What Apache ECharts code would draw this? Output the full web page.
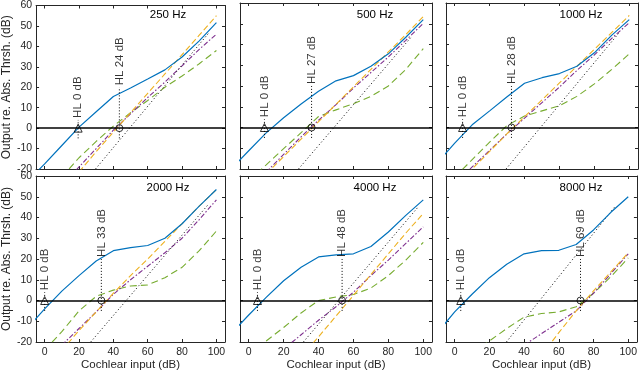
<!DOCTYPE html>
<html>
<head>
<meta charset="UTF-8">
<title></title>
<script src="https://cdn.jsdelivr.net/npm/echarts@6/dist/echarts.min.js"></script>
<style>
	html,body{margin:0;padding:0;background:#fff;}
	#main{width:640px;height:373px;}
</style>
</head>
<body>
<div id="main"></div>
<script>
// input levels (dB) where the curves were read
var inputs = [-10, 0, 10, 20, 30, 40, 50, 60, 70, 80, 90, 100];
var freqs = ['250 Hz', '500 Hz', '1000 Hz', '2000 Hz', '4000 Hz', '8000 Hz'];

// one row per panel, same order as freqs
var blue = [
	[-26, -17.5, -8.5, 0.5, 8, 15.5, 19.6, 24, 28.5, 34.8, 42.7, 51.6],
	[-20, -11.2, -2.6, 4.7, 11.3, 17.5, 22.5, 25, 29.5, 35.5, 43.5, 52],
	[-17, -7.5, 1.3, 8, 14.8, 21.3, 24, 26, 29.5, 36, 44.5, 52],
	[-13.3, -4, 4.5, 12, 19, 24, 25.5, 26.5, 30, 37, 45.5, 53.5],
	[-16, -7, 1.5, 9.5, 16, 21, 22, 22.5, 26, 33, 41, 48.5],
	[-15.5, -5.5, 3, 11, 17.5, 22.5, 24, 24.2, 27, 34, 42.5, 50]
];
var green = [
	[null, null, -24, -14.5, -6.5, 1, 7.5, 13.5, 20, 25.5, 31.5, 38],
	[null, -25.6, -18, -10.2, -2.5, 5.3, 8.5, 11.5, 15, 20, 28, 38],
	[null, -24, -15.5, -7, 1, 5.5, 8, 10.5, 15, 21, 28, 35.5],
	[null, -24, -15, -5, 2, 5, 7, 7.5, 11, 16, 24, 33.5],
	[null, -26, -19.5, -13, -6, 0, 1.7, 2.9, 6, 12, 19.5, 28],
	[null, null, -25, -19.5, -13.5, -8, -6.3, -5.5, -3, 3.5, 11.5, 20.5]
];
var orange = [
	[null, null, null, -21.5, -11.5, -2, 7.5, 17, 26.5, 36, 45.5, 55],
	[null, null, -22.4, -14, -5.6, 2.8, 11.2, 19.6, 28, 36.4, 44.8, 53.5],
	[null, -28.5, -20, -11.5, -3, 5.2, 13.3, 21.5, 29.5, 37.7, 45.8, 54],
	[null, null, -24, -14.5, -5.5, 3.5, 12, 20, 28.5, 37, 45.5, 53.5],
	[null, null, null, null, -27, -17.5, -7.5, 2.5, 12.5, 22.5, 32.5, 42],
	[null, null, null, null, null, null, -26.5, -15.5, -5, 4.6, 13.8, 23]
];
var purple = [
	[null, null, -28, -19, -10, -1, 7, 15, 22.5, 30.5, 38.5, 46],
	[null, null, -21.5, -13, -4.5, 3.5, 11, 19, 26.5, 34, 42, 50.2],
	[null, -27, -19, -11, -3, 4.5, 12, 19.5, 27.5, 35, 43, 50.5],
	[null, null, -21.5, -13.5, -5.5, 3, 10, 16.5, 23, 30, 39, 48.5],
	[null, null, null, -23.5, -16.5, -9.5, -3, 4, 12, 19.5, 27.5, 35.5],
	[null, null, null, null, null, -21.5, -16, -10.5, -5, 3.5, 13, 22.5]
];
// black dotted reference line: start and end point
var dotted = [
	[[29.6, -20], [95.5, 46.5]],
	[[28.5, -20], [93, 43.5]],
	[[29.4, -20], [94.5, 46]],
	[[26.8, -20], [95.5, 46.5]],
	[[31.3, -20], [97, 45]],
	[[29.8, -20], [92.4, 45.3]]
];
var hearingLoss = [24, 27, 28, 33, 48, 69];
var triX = [19.5, 9, 4.5, 0, 5, 3.5];
var circX = [43.5, 36, 32.5, 33, 53.5, 72.5];
var xTicks = [0, 20, 40, 60, 80, 100];

var fontFam = 'Liberation Sans, Arial, sans-serif';
var axisCol = '#262626';
var gridLeft = [33, 240, 446];
var gridTop = [3, 176];

function pts(vals) {
	var out = [];
	for (var i = 0; i < inputs.length; i++) {
		if (vals[i] != null) out.push([inputs[i], vals[i]]);
	}
	return out;
}

var grids = [], xAxes = [], yAxes = [], series = [], graphics = [];

for (var p = 0; p < 6; p++) {
	var row = Math.floor(p / 3), col = p % 3;
	grids.push({left: gridLeft[col], top: gridTop[row], width: 192, height: 166});

	var tickStyle = {inside: true, length: 3, lineStyle: {color: axisCol}};
	xAxes.push({
		gridIndex: p, type: 'value', min: -5, max: 105, position: 'bottom',
		axisLine: {show: true, onZero: false, lineStyle: {color: axisCol, width: 1}},
		axisTick: {show: true, inside: true, length: 3, customValues: xTicks, lineStyle: {color: axisCol}},
		axisLabel: {show: row == 1, customValues: xTicks, color: axisCol, fontSize: 10.5, fontFamily: fontFam, margin: 5},
		splitLine: {show: false},
		name: row == 1 ? 'Cochlear input (dB)' : '',
		nameLocation: 'middle', nameGap: 17,
		nameTextStyle: {color: axisCol, fontSize: 11.5, fontFamily: fontFam}
	});
	xAxes.push({
		gridIndex: p, type: 'value', min: -5, max: 105, position: 'top',
		axisLine: {show: true, onZero: false, lineStyle: {color: axisCol, width: 1}},
		axisTick: {show: true, inside: true, length: 3, customValues: xTicks, lineStyle: {color: axisCol}},
		axisLabel: {show: false},
		splitLine: {show: false}
	});
	yAxes.push({
		gridIndex: p, type: 'value', min: -20, max: 60, interval: 10, position: 'left',
		axisLine: {show: true, onZero: false, lineStyle: {color: axisCol, width: 1}},
		axisTick: tickStyle,
		axisLabel: {show: col == 0, color: axisCol, fontSize: 10.5, fontFamily: fontFam, margin: 4},
		splitLine: {show: false},
		name: col == 0 ? 'Output re. Abs. Thrsh. (dB)' : '',
		nameLocation: 'middle', nameGap: 21,
		nameTextStyle: {color: axisCol, fontSize: 12, fontFamily: fontFam}
	});
	yAxes.push({
		gridIndex: p, type: 'value', min: -20, max: 60, interval: 10, position: 'right',
		axisLine: {show: true, onZero: false, lineStyle: {color: axisCol, width: 1}},
		axisTick: tickStyle,
		axisLabel: {show: false},
		splitLine: {show: false}
	});

	var ax = {xAxisIndex: 2 * p, yAxisIndex: 2 * p};
	function add(s) {
		s.xAxisIndex = ax.xAxisIndex; s.yAxisIndex = ax.yAxisIndex;
		s.animation = false; s.silent = true;
		series.push(s);
	}
	// curves
	add({type: 'line', data: pts(green[p]), symbol: 'none', clip: true,
		lineStyle: {color: '#77AC30', width: 1.1, type: [7, 4]}});
	add({type: 'line', data: pts(purple[p]), symbol: 'none', clip: true,
		lineStyle: {color: '#7E2F8E', width: 1.1, type: [5, 2, 1.5, 2]}});
	add({type: 'line', data: pts(orange[p]), symbol: 'none', clip: true,
		lineStyle: {color: '#EDB120', width: 1.1, type: [6, 3]}});
	add({type: 'line', data: dotted[p], symbol: 'none', clip: true,
		lineStyle: {color: '#000', width: 1, type: [1, 2.5]}});
	add({type: 'line', data: pts(blue[p]), symbol: 'none', clip: true,
		lineStyle: {color: '#0072BD', width: 1.2},
		markLine: {silent: true, symbol: 'none', animation: false, label: {show: false},
			lineStyle: {color: '#000', width: 1.5, type: 'solid'}, data: [{yAxis: 0}]}});
	// threshold markers with their dotted stems
	add({type: 'line', data: [[triX[p], -5], [triX[p], 4]], symbol: 'none',
		lineStyle: {color: '#000', width: 1, type: [1, 2]}});
	add({type: 'line', data: [[circX[p], -5], [circX[p], 20]], symbol: 'none',
		lineStyle: {color: '#000', width: 1, type: [1, 2]}});
	add({type: 'scatter', data: [[triX[p], 0]], symbol: 'triangle', symbolSize: 8, z: 5,
		itemStyle: {color: 'rgba(0,0,0,0)', borderColor: '#000', borderWidth: 1}});
	add({type: 'scatter', data: [[circX[p], 0]], symbol: 'circle', symbolSize: 7, z: 5,
		itemStyle: {color: 'rgba(0,0,0,0)', borderColor: '#000', borderWidth: 1}});
	add({type: 'scatter', symbolSize: 0, z: 6,
		data: [{value: [triX[p], 5], name: 'HL 0 dB'}, {value: [circX[p], 21], name: 'HL ' + hearingLoss[p] + ' dB'}],
		label: {show: true, position: 'inside', rotate: 90, align: 'left', verticalAlign: 'middle',
			formatter: '{b}', color: '#000', fontSize: 11.5, fontFamily: fontFam}});

	graphics.push({type: 'text', x: gridLeft[col] + 135, y: gridTop[row] + 12, silent: true,
		style: {text: freqs[p], textAlign: 'center', textVerticalAlign: 'middle', fill: '#000', fontSize: 11.5, fontFamily: fontFam}});
}

var myChart = echarts.init(document.getElementById('main'));
myChart.setOption({
	animation: false,
	backgroundColor: '#fff',
	grid: grids,
	xAxis: xAxes,
	yAxis: yAxes,
	series: series,
	graphic: graphics
});
</script>
</body>
</html>
